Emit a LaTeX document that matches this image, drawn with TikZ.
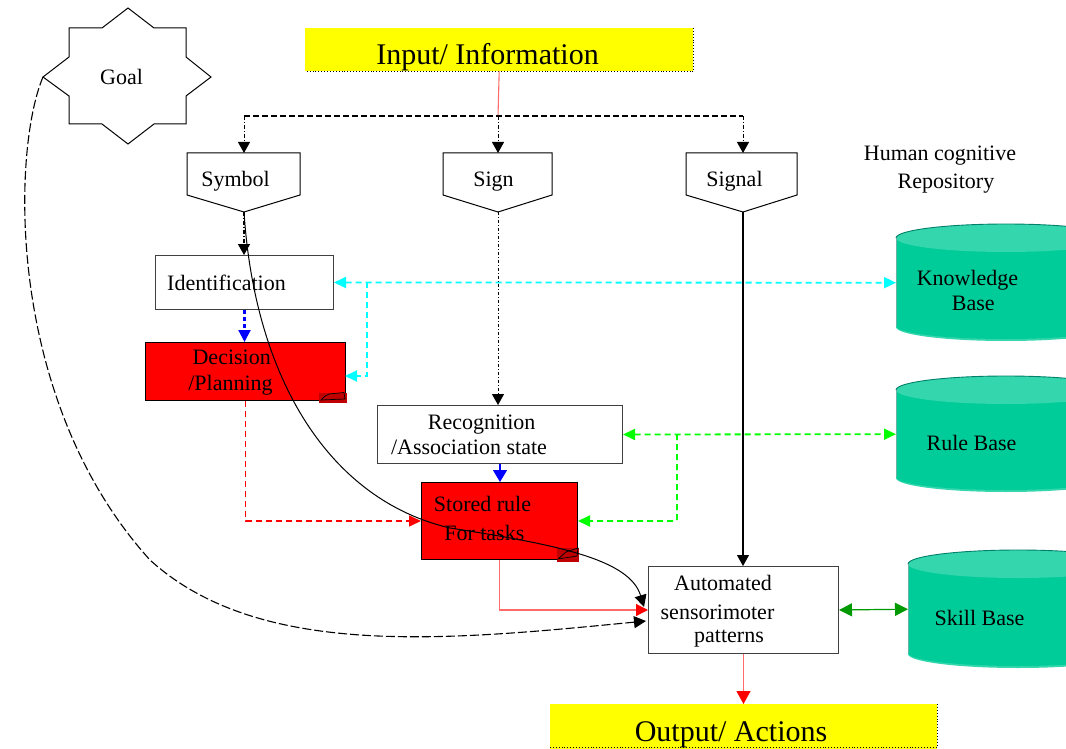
\documentclass[tikz,border=0pt]{standalone}
\usepackage{fontspec}
\setmainfont{Liberation Serif}
\usetikzlibrary{arrows.meta}

\definecolor{inputyellow}{HTML}{FFFF00}
\definecolor{boxred}{HTML}{FF0000}
\definecolor{folddark}{HTML}{C00000}
\definecolor{cylbody}{HTML}{00CC99}
\definecolor{cyltop}{HTML}{33D6AD}
\definecolor{cylrim}{HTML}{00806A}
\definecolor{linkcyan}{HTML}{00FFFF}
\definecolor{linkgreen}{HTML}{00FF00}
\definecolor{skillgreen}{HTML}{009900}
\definecolor{flowred}{HTML}{FF6B6B}
\definecolor{linkblue}{HTML}{0000FF}

\begin{document}
\begin{tikzpicture}[x=1pt,y=-1pt,
  txt/.style={font=\fontsize{22}{26}\selectfont, inner sep=0pt, anchor=base},
  bigtxt/.style={font=\fontsize{30}{34}\selectfont, inner sep=0pt, anchor=base},
  plainbox/.style={draw=black!75, line width=1pt, fill=white, inner sep=0pt, anchor=north west},
  redbox/.style={draw=black, line width=1pt, fill=boxred, inner sep=0pt, anchor=north west},
  hotbox/.style={fill=inputyellow, inner sep=0pt, anchor=north west},
  slot/.style={inner sep=0pt, anchor=north west},
  tipk/.style={-{Triangle[length=11pt,width=12pt]}},
  tipc/.style={-{Triangle[length=12pt,width=11pt]}},
  bothc/.style={{Triangle[length=12pt,width=11pt]}-{Triangle[length=12pt,width=11pt]}},
  dashdot/.style={dash pattern=on 4pt off 2pt on 1pt off 2pt},
  cyandash/.style={draw=linkcyan, line width=1.8pt, dash pattern=on 6pt off 4pt},
  greendash/.style={draw=linkgreen, line width=1.8pt, dash pattern=on 6pt off 4pt},
]
\useasboundingbox (0,0) rectangle (1066,749);

% ---------- goal star ----------
\draw[line width=1pt, fill=white]
  (69,28) -- (102,28) -- (128,8) -- (154,28) -- (186,28) -- (186,57) -- (211,77)
  -- (186,96) -- (186,124) -- (154,124) -- (128,144) -- (102,124) -- (69,124)
  -- (69,96) -- (43,77) -- (69,57) -- cycle;
\coordinate (goalleft) at (43,77);
\node[txt] (goaltxt) at (121.5,85) {Goal};

% ---------- input / output bars ----------
\node[hotbox, minimum width=388pt, minimum height=43pt] (input) at (305,28) {};
\draw[dotted, line width=0.9pt] (input.north east) -- (input.south east) -- (input.south west);
\node[bigtxt] (intxt) at (487.5,65) {Input/ Information};

\node[hotbox, minimum width=387pt, minimum height=46pt] (output) at (550,704) {};
\draw[dotted, line width=0.9pt] (937,704) -- (937,747) -- (550,747);
\node[bigtxt] (outtxt) at (731,741.5) {Output/ Actions};

% ---------- symbol / sign / signal tags ----------
\draw[line width=1pt, fill=white] (187,153) -- (300,153) -- (300,195) -- (244,212) -- (187,195) -- cycle;
\draw[line width=1pt, fill=white] (443,153) -- (552,153) -- (552,195) -- (498,212) -- (443,195) -- cycle;
\draw[line width=1pt, fill=white] (686,153) -- (797,153) -- (797,195) -- (743,212) -- (686,195) -- cycle;
\coordinate (symtop) at (244,153);  \coordinate (symtip) at (244,212);
\coordinate (signtop) at (498,153); \coordinate (signtip) at (498,212);
\coordinate (sigtop) at (743,153);  \coordinate (sigtip) at (743,212);
\node[txt] (symtxt) at (235.5,186) {Symbol};
\node[txt] (signtxt) at (493.5,186) {Sign};
\node[txt] (sigtxt) at (734.5,186) {Signal};

\node[txt] (hum1) at (940,160.7) {Human cognitive};
\node[txt] (hum2) at (946,189) {Repository};

% ---------- process boxes ----------
\node[plainbox, minimum width=178pt, minimum height=54pt] (ident) at (155,255) {};
\node[txt] (idtxt) at (226.5,290) {Identification};

\node[redbox, minimum width=200pt, minimum height=58pt] (decide) at (145,342) {};
\fill[folddark] (319,393) rectangle (347,403);
\draw[line width=0.7pt] (321,400) .. controls (325,396) .. (329,394) -- (344,392.5) -- (345,399) -- cycle;
\node[txt] (dec1) at (231.7,364) {Decision};
\node[txt] (dec2) at (230.5,390) {/Planning};

\node[plainbox, minimum width=245pt, minimum height=58pt] (recog) at (377,405) {};
\node[txt] (rec1) at (481.7,429) {Recognition};
\node[txt] (rec2) at (469,454) {/Association state};

\node[redbox, minimum width=156pt, minimum height=77pt] (stored) at (421,482) {};
\fill[folddark] (557,548) rectangle (579,562);
\draw[line width=0.7pt] (558,559) -- (566,552) -- (578,548) -- (577,556) -- cycle;
\node[txt] (st1) at (482.5,511.7) {Stored rule};
\node[txt] (st2) at (484.3,540) {For tasks};

\node[plainbox, minimum width=190pt, minimum height=87pt] (auto) at (648,566) {};
\node[txt] (au1) at (723,590.7) {Automated};
\node[txt] (au2) at (717.5,619) {sensorimoter};
\node[txt] (au3) at (729,642.7) {patterns};

% ---------- repositories (cylinders run past the right edge) ----------
\node[slot, minimum width=220pt, minimum height=117pt] (kb) at (896,224) {};
\node[slot, minimum width=220pt, minimum height=116pt] (rb) at (896,376) {};
\node[slot, minimum width=220pt, minimum height=118pt] (sb) at (908,550) {};
\begin{scope}
  \clip (0,0) rectangle (1066,749);
  \foreach \L/\T/\B in {896/224/341, 896/376/492, 908/550/668}{
    \path[fill=cyltop] (\L,\B-14) arc[start angle=180, end angle=360, x radius=110pt, y radius=14pt];
    \path[fill=cylbody] (\L,\T+14) -- (\L,\B-15)
      arc[start angle=180, end angle=360, x radius=110pt, y radius=13pt] -- (\L+220,\T+14) -- cycle;
    \path[fill=cyltop] (\L+110,\T+14) ellipse[x radius=110pt, y radius=14pt];
    \draw[cylrim, line width=0.9pt] (\L,\T+14) arc[start angle=180, end angle=0, x radius=110pt, y radius=14pt];
    \draw[cylrim!60, line width=0.5pt] (\L,\T+14) -- (\L,\B-15);
  }
\end{scope}
\node[txt] (kb1) at (967.5,285.7) {Knowledge};
\node[txt] (kb2) at (973.3,310) {Base};
\node[txt] (rb1) at (971.5,450) {Rule Base};
\node[txt] (sb1) at (979.5,625) {Skill Base};

% ---------- distribution of the input ----------
\coordinate (split) at (498,116);
\draw[flowred, line width=1.1pt] (input.south) -- (split);
\draw[line width=2pt, dash pattern=on 6pt off 3pt] (symtop |- split) -- (sigtop |- split);
\draw[tipk, line width=1pt, dashdot] (symtop |- split) -- (symtop);
\draw[tipk, line width=1pt, dashdot] (split) -- (signtop);
\draw[tipk, line width=1pt, dashdot] (sigtop |- split) -- (sigtop);

% ---------- main flow ----------
\draw[tipk, line width=1.4pt, dashdot] (symtip) -- (symtip |- ident.north);
\draw[linkblue, line width=2.2pt, dash pattern=on 4pt off 3pt, -{Triangle[length=12pt,width=12pt]}]
  (ident.south) -- (ident.south |- decide.north);
\draw[cyandash, bothc] (ident.east) -- (kb.west);
\coordinate (cyj) at (367,282);
\coordinate (decin) at (345,376);
\draw[cyandash, tipc] (cyj) -- (cyj |- decin) -- (decin);

\draw[boxred, line width=1.6pt, dash pattern=on 6pt off 4pt, tipc]
  (decide.south) -- (decide.south |- stored.west) -- (stored.west);

\draw[tipk, line width=1pt, dash pattern=on 3pt off 2pt on 1pt off 2pt] (signtip) -- (signtip |- recog.north);
\draw[linkblue, line width=1.1pt, -{Triangle[length=12pt,width=14pt]}] (recog.south) -- (recog.south |- stored.north);

\draw[greendash, bothc] (recog.east) -- (rb.west);
\coordinate (grj) at (677,434);
\draw[greendash, tipc, rounded corners=2pt] (grj) -- (grj |- stored.east) -- (stored.east);

\draw[tipk, line width=1.1pt] (sigtip) -- (sigtip |- auto.north);

\draw[flowred, line width=1.2pt, -{Triangle[length=12pt,width=12pt,color=boxred]}]
  (stored.south) -- (stored.south |- auto.west) -- (auto.west);
\draw[flowred, line width=1.2pt, -{Triangle[length=13pt,width=14pt,color=boxred]}]
  (auto.south) -- (auto.south |- output.north);

\draw[skillgreen, line width=1.2pt, {Triangle[length=13pt,width=13pt]}-{Triangle[length=13pt,width=13pt]}]
  (auto.east) -- (sb.west);

% ---------- long feedback curves ----------
\coordinate (autoin1) at (644,607);
\coordinate (autoin2) at (646,621);
\draw[line width=1pt, -{Triangle[length=12pt,width=12pt]}]
  (symtip) .. controls (255,380) and (330,500) .. (450,528)
  .. controls (560,545) and (630,560) .. (autoin1);
\draw[line width=1.1pt, dash pattern=on 9pt off 3pt, -{Triangle[length=12pt,width=12pt]}]
  (goalleft) .. controls (12,150) and (5,400) .. (150,560)
  .. controls (260,660) and (450,640) .. (autoin2);
\end{tikzpicture}
\end{document}
